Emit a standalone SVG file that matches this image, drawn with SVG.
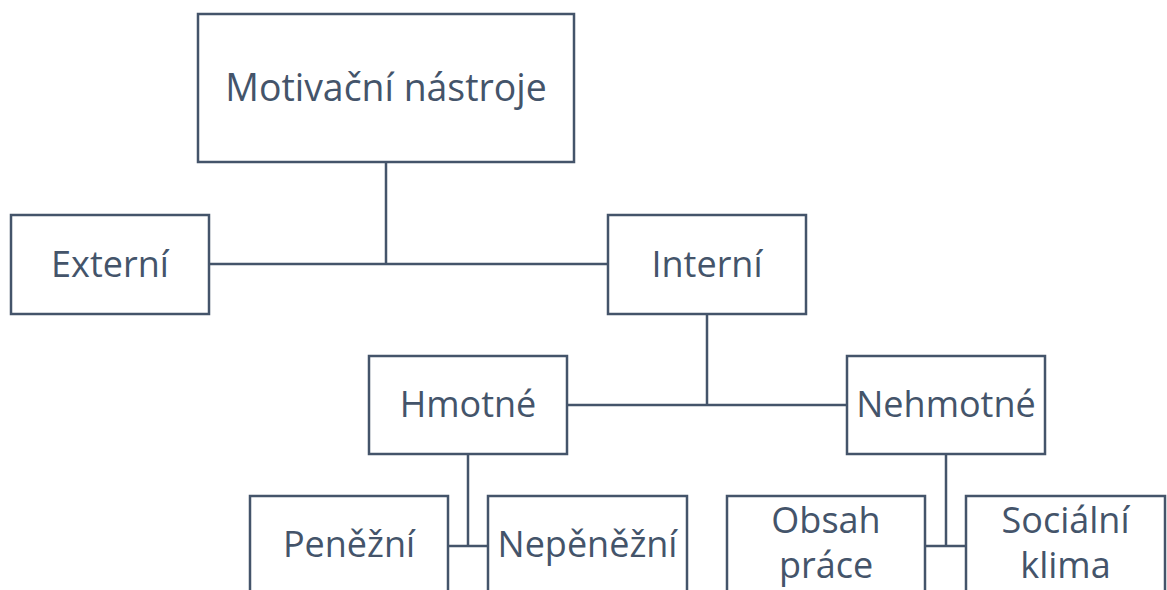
<svg xmlns="http://www.w3.org/2000/svg" width="1167" height="590" viewBox="0 0 1167 590">
<style>
.box{fill:#fff;stroke:#44546A;stroke-width:2.5}
.lbl{font-family:"Open Sans","Noto Sans",sans-serif;font-size:36px;fill:#44546A;text-anchor:middle}
.con{fill:none;stroke:#44546A;stroke-width:2.5}
</style>
<rect width="1167" height="590" fill="#fff"/>
<g id="connectors">
<path class="con" d="M386 162V264M209 264H608"/>
<path class="con" d="M707 314V405M567 405H847"/>
<path class="con" d="M468 454V546M448 546H488"/>
<path class="con" d="M946 454V546M925 546H966"/>
</g>
<g id="n-motivacni"><rect class="box" x="198" y="14" width="376" height="148"/><text class="lbl" x="386" y="101" style="font-size:37.4px">Motivační nástroje</text></g>
<g id="n-externi"><rect class="box" x="11" y="215" width="198" height="99"/><text class="lbl" x="110" y="277">Externí</text></g>
<g id="n-interni"><rect class="box" x="608" y="215" width="198" height="99"/><text class="lbl" x="707" y="277">Interní</text></g>
<g id="n-hmotne"><rect class="box" x="369" y="356" width="198" height="98"/><text class="lbl" x="468" y="417">Hmotné</text></g>
<g id="n-nehmotne"><rect class="box" x="847" y="356" width="198" height="98"/><text class="lbl" x="946" y="417">Nehmotné</text></g>
<g id="n-penezni"><rect class="box" x="250" y="496" width="198" height="110"/><text class="lbl" x="349" y="557">Peněžní</text></g>
<g id="n-nepenezni"><rect class="box" x="488" y="496" width="199" height="110"/><text class="lbl" x="587.5" y="557">Nepěněžní</text></g>
<g id="n-obsah"><rect class="box" x="727" y="496" width="198" height="110"/><text class="lbl" x="826" y="533">Obsah</text><text class="lbl" x="826" y="578">práce</text></g>
<g id="n-socialni"><rect class="box" x="966" y="496" width="199" height="110"/><text class="lbl" x="1065.5" y="533">Sociální</text><text class="lbl" x="1065.5" y="578">klima</text></g>
</svg>
